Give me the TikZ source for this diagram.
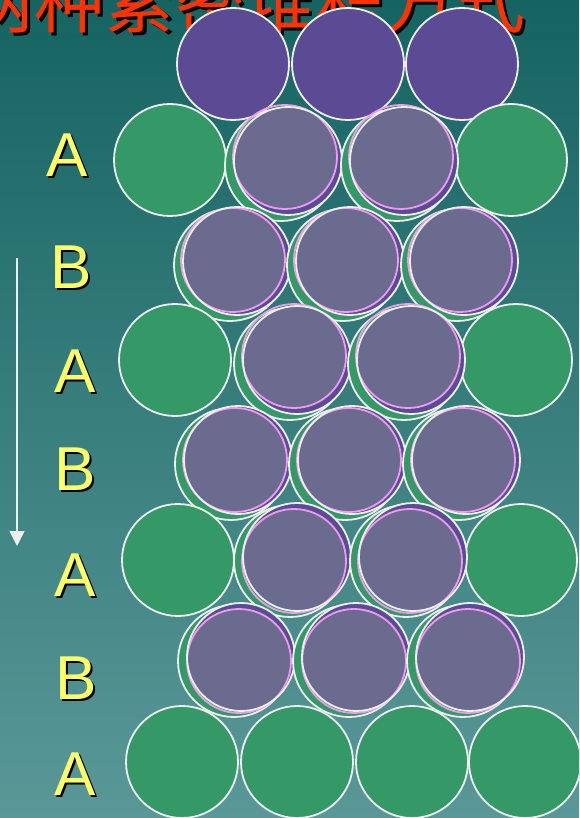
\documentclass[tikz,border=0pt]{standalone}
\usepackage{fontspec}
\setmainfont{Liberation Sans}
\newfontfamily\cjk{Noto Sans CJK SC}
\usetikzlibrary{arrows.meta}

\definecolor{bgtop}{HTML}{156462}
\definecolor{bgbot}{HTML}{5A9898}
\definecolor{ballgreen}{HTML}{349966}
\definecolor{ballpurple}{HTML}{5B4B94}
\definecolor{ballgray}{HTML}{6A6B8E}
\definecolor{rimpink}{HTML}{EE9AEE}
\definecolor{rimwhite}{HTML}{EEEEEE}
\definecolor{titlered}{HTML}{FF3300}
\definecolor{labelyellow}{HTML}{FFFF66}

\begin{document}
\begin{tikzpicture}[x=1pt,y=-1pt,
    rimline/.style={draw=rimwhite,line width=1.8pt},
    greenball/.style={rimline,fill=ballgreen},
    topball/.style={rimline,fill=ballpurple},
    layerlabel/.style={font=\fontsize{62}{62}\selectfont,inner sep=0pt},
    pairball/.pic={
        \draw[greenball] (-7,4) circle[radius=56pt];
        \fill[ballgray] (0,0) circle[radius=54pt];
        \begin{scope}
            \clip (0,0) circle[radius=54pt];
            \fill[ballpurple,even odd rule] (0,0) circle[radius=54pt] (#1) circle[radius=52pt];
        \end{scope}
        \draw[rimpink,line width=1.8pt] (#1) circle[radius=52pt];
        \draw[rimline] (0,0) circle[radius=54pt];
    }]

% ============================================
% BACKGROUND
% ============================================
        \useasboundingbox (0,0) rectangle (579,818);
        \clip (0,0) rectangle (579,818);
        \shade[top color=bgtop,bottom color=bgbot] (0,0) rectangle (579,818);

% ============================================
% TITLE (cut off at the top)
% ============================================
        \node[font=\cjk\fontsize{70}{70}\selectfont,text=black,anchor=base,inner sep=0pt] (titleshadow) at (248,31) {两种紧密堆积方式};
        \node[font=\cjk\fontsize{70}{70}\selectfont,text=titlered,anchor=base,inner sep=0pt] (title) at (245,28) {两种紧密堆积方式};

% ============================================
% TOP LAYER
% ============================================
        \draw[topball] (233,64) circle[radius=56pt];
        \draw[topball] (348,64) circle[radius=56pt];
        \draw[topball] (462,64) circle[radius=56pt];

% ============================================
% LAYERS A AND B
% ============================================
        % A
        \draw[greenball] (170,160) circle[radius=56pt];
        \draw[greenball] (511,160) circle[radius=56pt];
        \pic at (288,161) {pairball={-3,-4}};
        \pic at (404,161) {pairball={-3,-4}};
        % B
        \pic at (237,261) {pairball={-4,-1}};
        \pic at (350,261) {pairball={-4,-1}};
        \pic at (464,261) {pairball={-4,-1}};
        % A
        \draw[greenball] (175,360) circle[radius=56pt];
        \draw[greenball] (516,360) circle[radius=56pt];
        \pic at (297,360) {pairball={-3,-4}};
        \pic at (411,360) {pairball={-3,-4}};
        % B
        \pic at (238,460) {pairball={-3,0}};
        \pic at (352,460) {pairball={-3,0}};
        \pic at (466,460) {pairball={-3,0}};
        % A
        \draw[greenball] (178,560) circle[radius=56pt];
        \draw[greenball] (521,560) circle[radius=56pt];
        \pic at (297,557) {pairball={-3,4}};
        \pic at (413,557) {pairball={-3,4}};
        % B
        \pic at (241,657) {pairball={-2,4}};
        \pic at (356,657) {pairball={-2,4}};
        \pic at (470,657) {pairball={-2,4}};
        % A (bottom)
        \draw[greenball] (182,762) circle[radius=56pt];
        \draw[greenball] (297,762) circle[radius=56pt];
        \draw[greenball] (412,762) circle[radius=56pt];
        \draw[greenball] (525,762) circle[radius=56pt];

% ============================================
% LAYER LETTERS
% ============================================
        \node[layerlabel,text=black] at (69.5,157.5) {A};
        \node[layerlabel,text=labelyellow] (labA1) at (67.5,155.5) {A};
        \node[layerlabel,text=black] at (73.5,269.5) {B};
        \node[layerlabel,text=labelyellow] (labB1) at (71.5,267.5) {B};
        \node[layerlabel,text=black] at (77,373) {A};
        \node[layerlabel,text=labelyellow] (labA2) at (75,371) {A};
        \node[layerlabel,text=black] at (77,471.5) {B};
        \node[layerlabel,text=labelyellow] (labB2) at (75,469.5) {B};
        \node[layerlabel,text=black] at (77,577) {A};
        \node[layerlabel,text=labelyellow] (labA3) at (75,575) {A};
        \node[layerlabel,text=black] at (78,680) {B};
        \node[layerlabel,text=labelyellow] (labB3) at (76,678) {B};
        \node[layerlabel,text=black] at (77,776.5) {A};
        \node[layerlabel,text=labelyellow] (labA4) at (75,774.5) {A};

% ============================================
% Arrow (stacking direction)
% ============================================
        \coordinate (arrowtop) at (17,258);
        \coordinate (arrowbot) at (17,546);
        \draw[rimwhite,line width=1.5pt,-{Triangle[width=15pt,length=15pt]}] (arrowtop) -- (arrowbot);
\end{tikzpicture}
\end{document}
